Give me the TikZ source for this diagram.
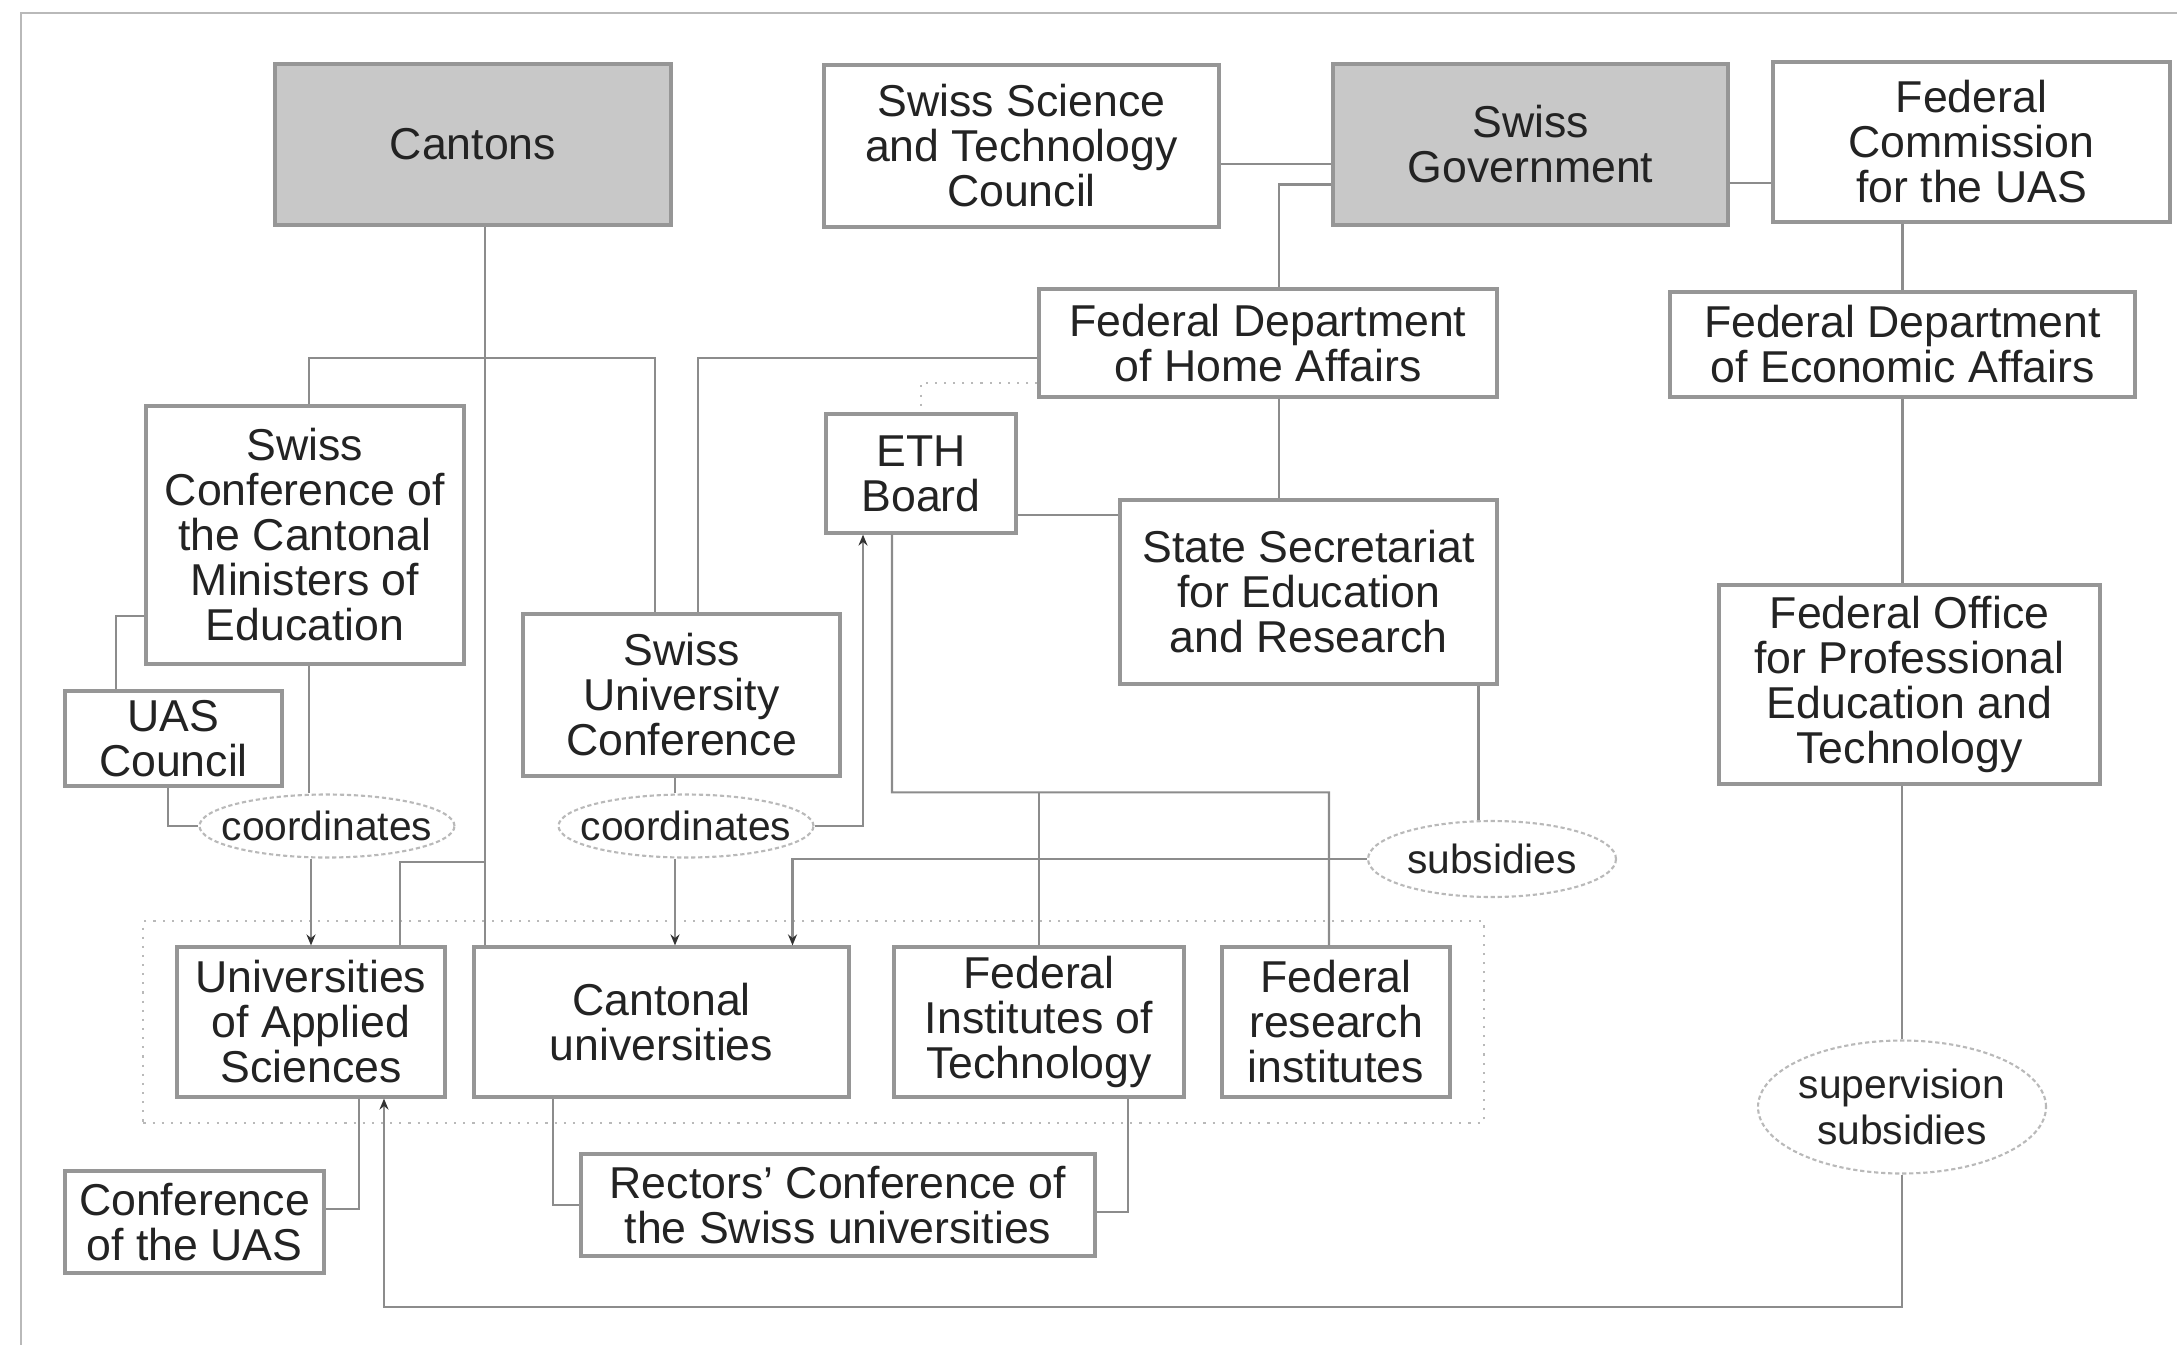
\documentclass[tikz,border=0pt]{standalone}
\usepackage{fontspec}
\setmainfont{Liberation Sans}
\usepackage{xcolor}
\usepackage{tikz}
\usetikzlibrary{arrows.meta,calc,shapes.geometric,fit}
\definecolor{linegray}{RGB}{140,140,140}
\definecolor{boxgray}{RGB}{150,150,150}
\definecolor{fillgray}{RGB}{200,200,200}
\definecolor{txtgray}{RGB}{35,35,35}
\definecolor{ovalgray}{RGB}{185,185,185}
\newcommand{\boxfont}{\fontsize{12.7}{12.8}\selectfont}
\newcommand{\ovalfont}{\fontsize{11.6}{13.2}\selectfont}
\tikzset{
  orgbox/.style={draw=boxgray,line width=0.9pt,align=center,inner sep=0pt,text=txtgray,font=\boxfont},
  govbox/.style={orgbox,fill=fillgray},
  oval/.style={ellipse,draw=ovalgray,dash pattern=on 1.2pt off 0.8pt,line width=0.6pt,fill=white,align=center,inner ysep=0pt,inner xsep=-3mm,text=txtgray,font=\ovalfont},
  link/.style={draw=linegray,line width=0.6pt},
  arr/.style={link,-{Stealth[length=1.1mm,width=0.9mm,color=black!80]}},
  group/.style={draw=ovalgray,dotted,line width=0.6pt,inner xsep=3.2mm,inner ysep=2.4mm},
}

\begin{document}
\begin{tikzpicture}
  \useasboundingbox (0,0) rectangle (21.77,-13.45);
  \draw[draw=ovalgray,line width=0.8pt] (21.77,-0.13) -- (0.21,-0.13) -- (0.21,-13.45);

  \node[govbox,minimum width=3.96cm,minimum height=1.61cm] (cantons) at (4.73,-1.445) {Cantons};
  \node[orgbox,minimum width=3.95cm,minimum height=1.62cm] (sstc) at (10.215,-1.46) {Swiss Science\\and Technology\\Council};
  \node[govbox,minimum width=3.95cm,minimum height=1.61cm] (gov) at (15.305,-1.445) {Swiss\\Government};
  \node[orgbox,minimum width=3.97cm,minimum height=1.60cm] (fcuas) at (19.715,-1.42) {Federal\\Commission\\for the UAS};
  \node[orgbox,minimum width=4.58cm,minimum height=1.08cm] (fdha) at (12.68,-3.43) {Federal Department\\of Home Affairs};
  \node[orgbox,minimum width=4.65cm,minimum height=1.05cm] (fdea) at (19.025,-3.445) {Federal Department\\of Economic Affairs};
  \node[orgbox,minimum width=1.90cm,minimum height=1.19cm] (eth) at (9.21,-4.735) {ETH\\Board};
  \node[orgbox,minimum width=3.77cm,minimum height=1.84cm] (sser) at (13.085,-5.92) {State Secretariat\\for Education\\and Research};
  \node[orgbox,minimum width=3.81cm,minimum height=1.99cm] (fopet) at (19.095,-6.845) {Federal Office\\for Professional\\Education and\\Technology};
  \node[orgbox,minimum width=3.18cm,minimum height=2.58cm] (sccme) at (3.05,-5.35) {Swiss\\Conference of\\the Cantonal\\Ministers of\\Education};
  \node[orgbox,minimum width=3.17cm,minimum height=1.62cm] (suc) at (6.815,-6.95) {Swiss\\University\\Conference};
  \node[orgbox,minimum width=2.17cm,minimum height=0.95cm] (uasc) at (1.735,-7.385) {UAS\\Council};

  \node[oval,minimum width=2.55cm,minimum height=0.63cm] (coord1) at (3.27,-8.26) {coordinates};
  \node[oval,minimum width=2.55cm,minimum height=0.63cm] (coord2) at (6.86,-8.26) {coordinates};
  \node[oval,minimum width=2.48cm,minimum height=0.76cm] (subs) at (14.92,-8.59) {subsidies};
  \node[oval,minimum width=2.88cm,minimum height=1.33cm] (supsub) at (19.02,-11.07) {supervision\\subsidies};

  \node[orgbox,minimum width=2.68cm,minimum height=1.50cm] (uas) at (3.11,-10.22) {Universities\\of Applied\\Sciences};
  \node[orgbox,minimum width=3.75cm,minimum height=1.50cm] (cantu) at (6.615,-10.22) {Cantonal\\universities};
  \node[orgbox,minimum width=2.90cm,minimum height=1.50cm] (fedinst) at (10.39,-10.22) {Federal\\Institutes of\\Technology};
  \node[orgbox,minimum width=2.28cm,minimum height=1.50cm] (fri) at (13.36,-10.22) {Federal\\research\\institutes};
  \node[group,fit=(uas)(fri)] (unis) {};
  \node[orgbox,minimum width=2.59cm,minimum height=1.02cm] (confuas) at (1.945,-12.22) {Conference\\of the UAS};
  \node[orgbox,minimum width=5.14cm,minimum height=1.02cm] (rect) at (8.38,-12.05) {Rectors' Conference of\\the Swiss universities};

  \draw[link] ([yshift=-1.8mm]sstc.east) -- ([yshift=-1.8mm]sstc.east -| gov.west);
  \draw[link] ([yshift=-3.85mm]gov.east) -- ([yshift=-3.85mm]gov.east -| fcuas.west);
  \draw[link] ([yshift=-4mm]gov.west) -| ([xshift=1.1mm]fdha.north);
  \draw[link] ([xshift=1.1mm]fdha.south) -- ([xshift=1.1mm]fdha.south |- sser.north);
  \draw[link] (fdea.north) -- (fdea.north |- fcuas.south);
  \draw[link] (fdea.south) -- (fdea.south |- fopet.north);
  \draw[link] (supsub.north) -- (supsub.north |- fopet.south);
  \draw[arr] (supsub.south) -- ++(0,-1.32) -| ([xshift=7.3mm]uas.south);
  \draw[link] ([xshift=17mm]sser.south) -- ([xshift=17mm]sser.south |- subs.north);
  \draw[arr] (subs.west) -| ([xshift=13.1mm]cantu.north);
  \draw[link,draw=ovalgray,dotted] ([yshift=-4mm]fdha.west) -| (eth.north);
  \draw[link] ([yshift=-4.15mm]eth.east) -- ([yshift=-4.15mm]eth.east -| sser.west);
  \draw[link] ([xshift=-2.9mm]eth.south) |- ($(fri.north)+(-0.07,1.53)$) -- ([xshift=-0.7mm]fri.north);
  \draw[link] (fedinst.north) -- ++(0,1.53);
  \draw[arr] (coord2.east) -| ([xshift=-5.8mm]eth.south);
  \draw[link] ([yshift=-1.5mm]fdha.west) -| ([xshift=1.65mm]suc.north);

  \coordinate (cbus) at ([xshift=1.2mm]cantons.south |- 0,-3.58);
  \coordinate (cbus2) at ([xshift=1.2mm]cantons.south |- 0,-8.62);
  \draw[link] ([xshift=1.2mm]cantons.south) -- ([xshift=1.2mm]cantons.south |- cantu.north);
  \draw[link] ([xshift=0.4mm]sccme.north) |- (cbus) -| ([xshift=-2.65mm]suc.north);
  \draw[link] (cbus2) -| ([xshift=8.9mm]uas.north);
  \draw[link] ([yshift=-8.1mm]sccme.west) -| ([xshift=-5.75mm]uasc.north);
  \draw[link] ([xshift=-0.55mm]uasc.south) |- (coord1.west);
  \draw[link] ([xshift=0.4mm]sccme.south) -- ([xshift=0.4mm]sccme.south |- coord1.north);
  \draw[arr] (uas.north |- coord1.south) -- (uas.north);
  \draw[link] ([xshift=-0.65mm]suc.south) -- ([xshift=-0.65mm]suc.south |- coord2.north);
  \draw[arr] ([xshift=1.35mm]cantu.north |- coord2.south) -- ([xshift=1.35mm]cantu.north);
  \draw[link] ([xshift=4.8mm]uas.south) |- ([yshift=1.3mm]confuas.east);
  \draw[link] ([xshift=-10.85mm]cantu.south) |- (rect.west);
  \draw[link] ([xshift=8.9mm]fedinst.south) |- ([yshift=-0.7mm]rect.east);
\end{tikzpicture}
\end{document}
